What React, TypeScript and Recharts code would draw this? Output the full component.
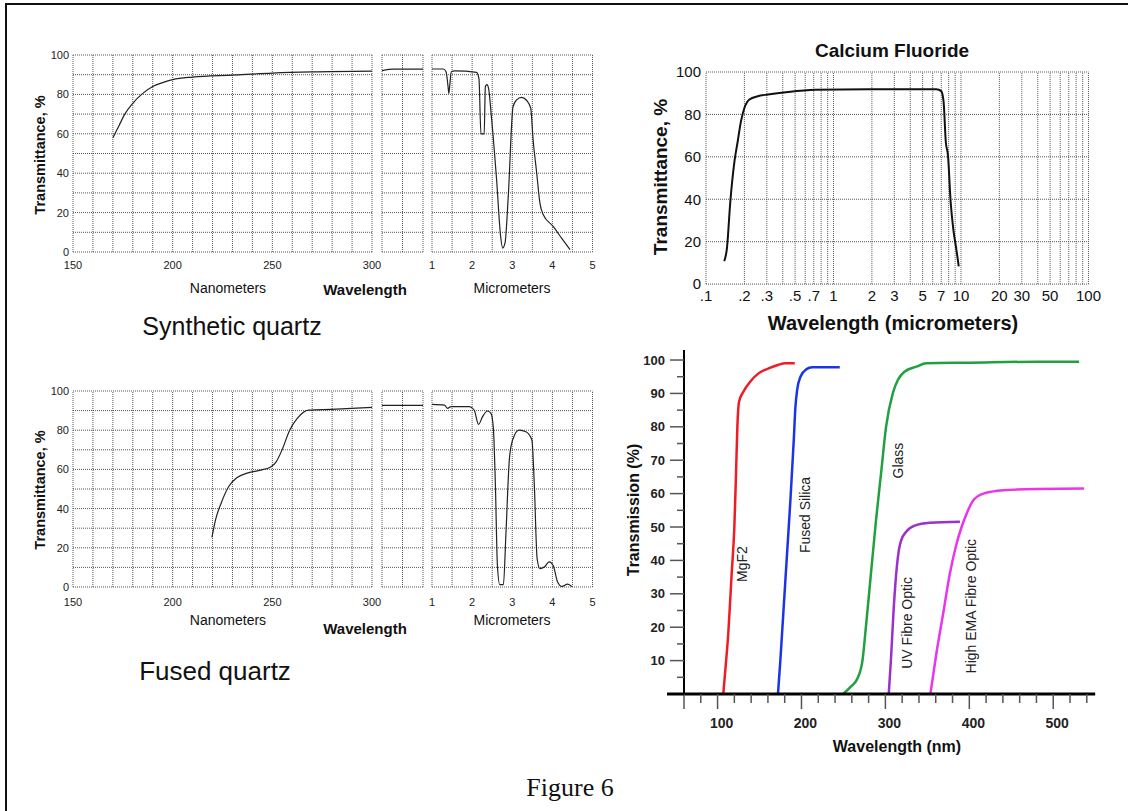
import React from "react";
import { LineChart, Line, XAxis, YAxis, ReferenceLine, ReferenceDot } from "recharts";

const SANS = "'Liberation Sans', Arial, sans-serif";
const GRID = "#555";

// quartz plots: shared axes
const T_TICKS = [0, 20, 40, 60, 80, 100];
const T_GRID = [0, 10, 20, 30, 40, 50, 60, 70, 80, 90, 100];
const NM_TICKS = [150, 200, 250, 300];
const NM_GRID = [150, 160, 170, 180, 190, 200, 210, 220, 230, 240, 250, 260, 270, 280, 290, 300];
const GAP_GRID = [0.3, 0.65, 1];
const UM_TICKS = [1, 2, 3, 4, 5];
const UM_GRID = [1, 1.5, 2, 2.5, 3, 3.5, 4, 4.5, 5];

const synthNm = [
  { x: 170, t: 58 }, { x: 173, t: 64 }, { x: 176, t: 70 }, { x: 180, t: 75.5 },
  { x: 185, t: 80.5 }, { x: 190, t: 84 }, { x: 195, t: 86 }, { x: 200, t: 87.5 },
  { x: 210, t: 88.8 }, { x: 230, t: 89.8 }, { x: 250, t: 90.8 }, { x: 270, t: 91.4 },
  { x: 300, t: 91.8 },
];
const synthGap = [{ x: 0.3, t: 92.1 }, { x: 0.5, t: 92.8 }, { x: 1, t: 92.8 }];
const synthUm = [
  { x: 1, t: 92.9 }, { x: 1.28, t: 92.9 }, { x: 1.35, t: 91.5 }, { x: 1.4, t: 84 },
  { x: 1.42, t: 80.5 }, { x: 1.44, t: 84 }, { x: 1.48, t: 91.5 }, { x: 1.57, t: 91.9 },
  { x: 2.11, t: 91.2 }, { x: 2.17, t: 88 }, { x: 2.22, t: 60 }, { x: 2.3, t: 60 },
  { x: 2.33, t: 84 }, { x: 2.37, t: 85 }, { x: 2.41, t: 83 }, { x: 2.48, t: 68.8 },
  { x: 2.61, t: 36.7 }, { x: 2.71, t: 8 }, { x: 2.76, t: 2 }, { x: 2.82, t: 4.6 },
  { x: 2.9, t: 28 }, { x: 3.02, t: 73.8 }, { x: 3.11, t: 77.2 }, { x: 3.23, t: 78.5 },
  { x: 3.36, t: 76.9 }, { x: 3.46, t: 73 }, { x: 3.52, t: 57 }, { x: 3.61, t: 40 },
  { x: 3.69, t: 24.8 }, { x: 3.77, t: 19 }, { x: 4.02, t: 13 }, { x: 4.23, t: 7 },
  { x: 4.44, t: 1.2 },
];

const fusedNm = [
  { x: 219.7, t: 25.3 }, { x: 221.6, t: 34.6 }, { x: 224.4, t: 43 }, { x: 228.2, t: 51.4 },
  { x: 232, t: 55.6 }, { x: 237.8, t: 58.2 }, { x: 243.5, t: 59.5 }, { x: 249.2, t: 61.2 },
  { x: 252, t: 64 }, { x: 254.9, t: 70 }, { x: 258.7, t: 80 }, { x: 262.5, t: 86 },
  { x: 268.2, t: 90.2 }, { x: 279.6, t: 90.6 }, { x: 300, t: 91.6 },
];
const fusedGap = [{ x: 0.3, t: 92.7 }, { x: 1, t: 92.7 }];
const fusedUm = [
  { x: 1, t: 93.2 }, { x: 1.31, t: 92.8 }, { x: 1.39, t: 91.1 }, { x: 1.47, t: 92 },
  { x: 1.93, t: 92 }, { x: 2.05, t: 90.3 }, { x: 2.16, t: 83 }, { x: 2.26, t: 86.9 },
  { x: 2.38, t: 89.8 }, { x: 2.47, t: 88.6 }, { x: 2.53, t: 80.9 }, { x: 2.58, t: 52 },
  { x: 2.63, t: 11 }, { x: 2.69, t: 1.2 }, { x: 2.78, t: 1.2 }, { x: 2.84, t: 26 },
  { x: 2.93, t: 65.6 }, { x: 3.01, t: 75 }, { x: 3.17, t: 80 }, { x: 3.34, t: 79.2 },
  { x: 3.49, t: 75 }, { x: 3.55, t: 52 }, { x: 3.62, t: 14.5 }, { x: 3.69, t: 9.4 },
  { x: 3.8, t: 10.2 }, { x: 3.92, t: 12.8 }, { x: 4.02, t: 11 }, { x: 4.13, t: 2.6 },
  { x: 4.24, t: 0.3 }, { x: 4.38, t: 1.5 }, { x: 4.49, t: 0.2 },
];

// calcium fluoride (log wavelength axis)
const CAF_TICKS = [0.1, 0.2, 0.3, 0.5, 0.7, 1, 2, 3, 5, 7, 10, 20, 30, 50, 100];
const CAF_GRID_X = [0.1, 0.2, 0.3, 0.4, 0.5, 0.6, 0.7, 0.8, 0.9, 1, 2, 3, 4, 5, 6, 7, 8, 9, 10, 20, 30, 40, 50, 60, 70, 80, 90, 100];
const CAF_GRID_Y = [0, 20, 40, 60, 80, 100];
const caf2 = [
  { x: 0.139, t: 10.8 }, { x: 0.146, t: 17 }, { x: 0.155, t: 38.6 }, { x: 0.167, t: 57.6 },
  { x: 0.177, t: 67 }, { x: 0.188, t: 76.7 }, { x: 0.2, t: 83 }, { x: 0.219, t: 87 },
  { x: 0.255, t: 88.6 }, { x: 0.306, t: 89.4 }, { x: 0.441, t: 90.6 }, { x: 0.718, t: 91.6 },
  { x: 1.9, t: 91.9 }, { x: 6.4, t: 91.9 }, { x: 7.0, t: 91 }, { x: 7.3, t: 86 },
  { x: 7.6, t: 67 }, { x: 7.9, t: 60.8 }, { x: 8.3, t: 38.6 }, { x: 8.7, t: 25.9 },
  { x: 9.2, t: 16.3 }, { x: 9.6, t: 8.4 },
];

// transmission vs wavelength (nm)
const TR_X_TICKS = [60, 80, 100, 120, 140, 160, 180, 200, 220, 240, 260, 280, 300, 320, 340, 360, 380, 400, 420, 440, 460, 480, 500, 520, 540];
const TR_Y_TICKS = [0, 5, 10, 15, 20, 25, 30, 35, 40, 45, 50, 55, 60, 65, 70, 75, 80, 85, 90, 95, 100];
const mgf2 = [
  { x: 106.8, t: 0 }, { x: 109.6, t: 8.2 }, { x: 112.8, t: 18.2 }, { x: 116.8, t: 36 },
  { x: 120, t: 50 }, { x: 122, t: 66 }, { x: 123.6, t: 80 }, { x: 125.6, t: 87.5 },
  { x: 130.8, t: 90.5 }, { x: 138.8, t: 93.5 }, { x: 148.8, t: 96 }, { x: 160.8, t: 97.5 },
  { x: 172.8, t: 98.6 }, { x: 180.8, t: 99 }, { x: 192, t: 99 },
];
const fusedSilica = [
  { x: 172, t: 0 }, { x: 174.8, t: 10 }, { x: 178.8, t: 26 }, { x: 182.8, t: 42 },
  { x: 186.8, t: 58 }, { x: 190.8, t: 76 }, { x: 192.8, t: 86 }, { x: 194.8, t: 91 },
  { x: 198.8, t: 95 }, { x: 205.6, t: 97.2 }, { x: 212.8, t: 97.8 }, { x: 245.6, t: 97.8 },
];
const glass = [
  { x: 249.6, t: 0 }, { x: 258.8, t: 2.2 }, { x: 266.8, t: 4.7 }, { x: 272.8, t: 10.2 },
  { x: 276.8, t: 20.2 }, { x: 282.8, t: 36.1 }, { x: 288.8, t: 52 }, { x: 294.8, t: 66 },
  { x: 300.8, t: 80 }, { x: 308.8, t: 90 }, { x: 314.8, t: 94 }, { x: 322.8, t: 96.5 },
  { x: 336.8, t: 98 }, { x: 348.8, t: 99 }, { x: 400.8, t: 99.2 }, { x: 480.8, t: 99.5 },
  { x: 530.8, t: 99.5 },
];
const uvFibre = [
  { x: 304, t: 0 }, { x: 306.8, t: 11.2 }, { x: 310, t: 26 }, { x: 313.6, t: 38 },
  { x: 316, t: 43 }, { x: 318.8, t: 46 }, { x: 324.8, t: 48.6 }, { x: 334.8, t: 50.4 },
  { x: 352.8, t: 51.3 }, { x: 388.8, t: 51.6 },
];
const highEma = [
  { x: 353.6, t: 0 }, { x: 360.8, t: 12.2 }, { x: 368.8, t: 24 }, { x: 376.8, t: 36 },
  { x: 384.8, t: 45 }, { x: 390.8, t: 50 }, { x: 396.8, t: 54 }, { x: 404.8, t: 58 },
  { x: 416.8, t: 60 }, { x: 440.8, t: 61 }, { x: 480.8, t: 61.4 }, { x: 536.8, t: 61.5 },
];
const TR_SERIES = [
  { name: "MgF2", data: mgf2, color: "#ee1c24", at: [129, 38.9] },
  { name: "Fused Silica", data: fusedSilica, color: "#1c34e8", at: [203.8, 53.6] },
  { name: "Glass", data: glass, color: "#20a040", at: [314.7, 69.9] },
  { name: "UV Fibre Optic", data: uvFibre, color: "#9b30d0", at: [325.9, 21.3] },
  { name: "High EMA Fibre Optic", data: highEma, color: "#ea35ea", at: [402.3, 26.3] },
];

function Txt({ x, y, size, bold, rotate, family, children }: any) {
  return (
    <div
      style={{
        position: "absolute", left: x, top: y, whiteSpace: "nowrap", lineHeight: 1,
        fontSize: size, fontWeight: bold ? "bold" : "normal", fontFamily: family || SANS, color: "#111",
        transform: `translate(-50%, -50%) rotate(${rotate || 0}deg)`,
      }}
    >
      {children}
    </div>
  );
}

function QuartzPanel({ left, top, plotW, plotH, data, domain, grid, ticks, showY, tickGap }: any) {
  const yW = showY ? 40 : 0;
  const m = { top: 10, right: 14, bottom: 0, left: showY ? 0 : 3 };
  return (
    <div style={{ position: "absolute", left: left - yW - m.left, top: top - m.top }}>
      <LineChart width={yW + m.left + plotW + m.right} height={m.top + plotH + 22} data={data} margin={m}>
        <XAxis
          dataKey="x" type="number" domain={domain} allowDataOverflow
          ticks={ticks} interval={0} tick={ticks ? { fontSize: 11, fill: "#222", fontFamily: SANS } : false}
          axisLine={false} tickLine={false} tickSize={0} tickMargin={tickGap} height={22}
        />
        <YAxis
          type="number" domain={[0, 100]} ticks={T_TICKS} interval={0} hide={!showY} width={yW}
          axisLine={false} tickLine={false} tickSize={0} tickMargin={4}
          tick={{ fontSize: 11, fill: "#222", fontFamily: SANS }}
        />
        {T_GRID.map((v) => (
          <ReferenceLine key={"h" + v} y={v} stroke={GRID} strokeDasharray="1 1" />
        ))}
        {grid.map((v: number) => (
          <ReferenceLine key={"v" + v} x={v} stroke={GRID} strokeDasharray="1 1" />
        ))}
        <Line dataKey="t" type="monotone" stroke="#222" strokeWidth={1.2} dot={false} isAnimationActive={false} />
      </LineChart>
    </div>
  );
}

function Quartz({ top, plotH, nm, gap, um, tickGap }: any) {
  return (
    <>
      <QuartzPanel left={73} top={top} plotW={299} plotH={plotH} data={nm} domain={[150, 300]} grid={NM_GRID} ticks={NM_TICKS} showY tickGap={tickGap} />
      <QuartzPanel left={382} top={top} plotW={41} plotH={plotH} data={gap} domain={[0.3, 1]} grid={GAP_GRID} tickGap={tickGap} />
      <QuartzPanel left={432} top={top} plotW={160.5} plotH={plotH} data={um} domain={[1, 5]} grid={UM_GRID} ticks={UM_TICKS} tickGap={tickGap} />
    </>
  );
}

function TrXTick({ x, y, payload }: any) {
  const v = payload.value;
  const major = v % 100 === 0 || v === 60;
  return (
    <g>
      <line x1={x} x2={x} y1={y} y2={y + (major ? 15 : 9)} stroke="#555" strokeWidth={1.5} />
      {v % 100 === 0 && (
        <text x={x + 4} y={y + 34} textAnchor="middle" fontSize={14} fontWeight="bold" fill="#222" fontFamily={SANS}>
          {v}
        </text>
      )}
    </g>
  );
}

function TrYTick({ x, y, payload }: any) {
  const v = payload.value;
  const len = v === 0 ? 17 : v % 10 === 0 ? 14 : 7;
  return (
    <g>
      <line x1={x - len} x2={x} y1={y} y2={y} stroke={v === 0 ? "#000" : "#555"} strokeWidth={v === 0 ? 3 : 1.5} />
      {v > 0 && v % 10 === 0 && (
        <text x={x - 19} y={y} textAnchor="end" dominantBaseline="central" fontSize={13} fontWeight="bold" fill="#222" fontFamily={SANS}>
          {v}
        </text>
      )}
    </g>
  );
}

export default function App() {
  return (
    <div style={{ position: "absolute", left: 0, top: 0, width: 1128, height: 811, background: "#fff", overflow: "hidden", fontFamily: SANS }}>
      <div style={{ position: "absolute", left: 5, top: 3, width: 1140, height: 830, borderLeft: "2px solid #111", borderTop: "2px solid #111" }} />

      {/* synthetic quartz */}
      <Quartz top={55} plotH={197} nm={synthNm} gap={synthGap} um={synthUm} tickGap={9} />
      <Txt x={40} y={155} size={14.5} bold rotate={-90}>Transmittance, %</Txt>
      <Txt x={228} y={288} size={14}>Nanometers</Txt>
      <Txt x={365} y={289} size={15} bold>Wavelength</Txt>
      <Txt x={512} y={288} size={14}>Micrometers</Txt>
      <Txt x={232} y={326} size={25}>Synthetic quartz</Txt>

      {/* fused quartz */}
      <Quartz top={391} plotH={196} nm={fusedNm} gap={fusedGap} um={fusedUm} tickGap={11} />
      <Txt x={40} y={490} size={14.5} bold rotate={-90}>Transmittance, %</Txt>
      <Txt x={228} y={620} size={14}>Nanometers</Txt>
      <Txt x={365} y={628} size={15} bold>Wavelength</Txt>
      <Txt x={512} y={620} size={14}>Micrometers</Txt>
      <Txt x={215} y={671} size={26}>Fused quartz</Txt>

      {/* calcium fluoride */}
      <div style={{ position: "absolute", left: 656.4, top: 61.7 }}>
        <LineChart width={462.5} height={252.1} data={caf2} margin={{ top: 10, right: 30, bottom: 0, left: 0 }}>
          <XAxis
            dataKey="x" type="number" scale="log" domain={[0.1, 100]} allowDataOverflow
            ticks={CAF_TICKS} interval={0} tickFormatter={(v: number) => (v < 1 ? String(v).slice(1) : String(v))}
            tick={{ fontSize: 15, fill: "#111", fontFamily: SANS }}
            axisLine={false} tickLine={false} tickSize={0} tickMargin={6} height={30}
          />
          <YAxis
            type="number" domain={[0, 100]} ticks={CAF_GRID_Y} interval={0} width={50}
            axisLine={false} tickLine={false} tickSize={0} tickMargin={5}
            tick={{ fontSize: 15, fill: "#111", fontFamily: SANS }}
          />
          {CAF_GRID_Y.map((v) => (
            <ReferenceLine key={"h" + v} y={v} stroke={GRID} strokeDasharray="1 1" />
          ))}
          {CAF_GRID_X.map((v) => (
            <ReferenceLine key={"v" + v} x={v} stroke={GRID} strokeDasharray="1 1" />
          ))}
          <Line dataKey="t" type="monotone" stroke="#111" strokeWidth={2} dot={false} isAnimationActive={false} />
        </LineChart>
      </div>
      <Txt x={892} y={50} size={19} bold>Calcium Fluoride</Txt>
      <Txt x={660} y={177} size={19} bold rotate={-90}>Transmittance, %</Txt>
      <Txt x={893} y={323} size={20} bold>Wavelength (micrometers)</Txt>

      {/* transmission vs wavelength */}
      <div style={{ position: "absolute", left: 624.3, top: 345 }}>
        <LineChart width={481.2} height={389} margin={{ top: 5, right: 10, bottom: 0, left: 0 }}>
          <XAxis
            dataKey="x" type="number" domain={[60, 550]} allowDataOverflow ticks={TR_X_TICKS} interval={0}
            tick={<TrXTick />} tickLine={false} tickSize={0} tickMargin={0} height={40}
            axisLine={{ stroke: "#000", strokeWidth: 3 }}
          />
          <YAxis
            type="number" domain={[0, 103]} allowDataOverflow ticks={TR_Y_TICKS} interval={0} width={60}
            tick={<TrYTick />} tickLine={false} tickSize={0} tickMargin={0}
            axisLine={{ stroke: "#000", strokeWidth: 2 }}
          />
          {TR_SERIES.map((s) => (
            <Line key={s.name} data={s.data} dataKey="t" type="monotone" stroke={s.color} strokeWidth={2.5} dot={false} isAnimationActive={false} />
          ))}
          {TR_SERIES.map((s) => (
            <ReferenceDot
              key={"l" + s.name} x={s.at[0]} y={s.at[1]} r={1} fill="none" stroke="none"
              label={{ value: s.name, position: "center", angle: -90, fontSize: 14, fill: "#222", fontFamily: SANS }}
            />
          ))}
        </LineChart>
      </div>
      <Txt x={634} y={510} size={16} bold rotate={-90}>Transmission (%)</Txt>
      <Txt x={897} y={747} size={16} bold>Wavelength (nm)</Txt>

      <Txt x={570} y={788} size={26} family="'Liberation Serif', 'Times New Roman', serif">Figure 6</Txt>
    </div>
  );
}
